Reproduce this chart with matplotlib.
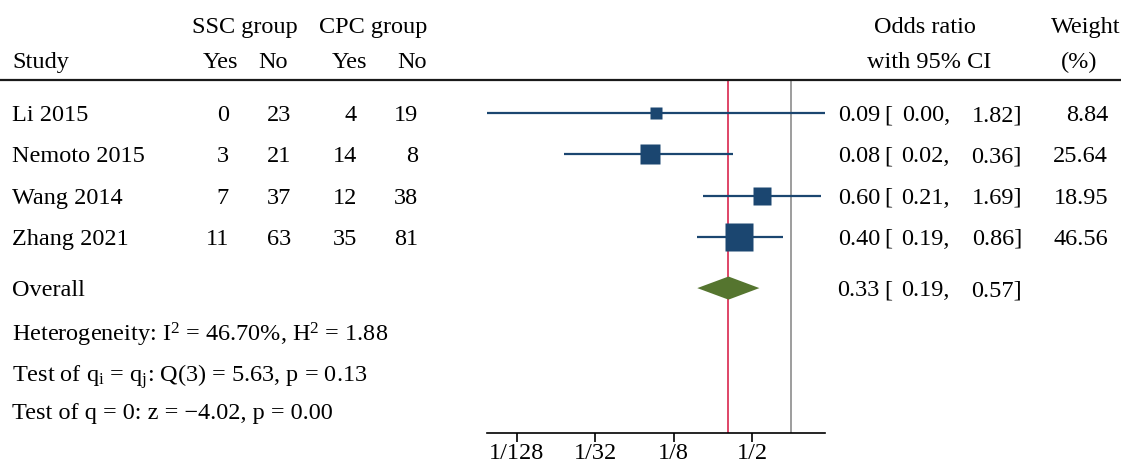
import numpy as np
import matplotlib
matplotlib.use("Agg")
import matplotlib.pyplot as plt
from matplotlib.lines import Line2D
from matplotlib.transforms import blended_transform_factory

plt.rcParams['font.family'] = ['Liberation Serif', 'DejaVu Serif']
plt.rcParams['mathtext.fontset'] = 'custom'
plt.rcParams['mathtext.rm'] = 'Liberation Serif'
plt.rcParams['mathtext.it'] = 'Liberation Serif:italic'

# data
studies = ["Li 2015", "Nemoto 2015", "Wang 2014", "Zhang 2021"]
ssc_yes = [0, 3, 7, 11]
ssc_no = [23, 21, 37, 63]
cpc_yes = [4, 14, 12, 35]
cpc_no = [19, 8, 38, 81]
odds = [0.092, 0.082, 0.60, 0.40]
ci_low = [0.0046, 0.018, 0.21, 0.19]
ci_high = [1.82, 0.36, 1.69, 0.86]
weights = [8.84, 25.64, 18.95, 46.56]
or_text = [("0.09", "0.00", "1.82"), ("0.08", "0.02", "0.36"),
           ("0.60", "0.21", "1.69"), ("0.40", "0.19", "0.86")]
overall_or = 0.33
overall_low = 0.19
overall_high = 0.57
overall_text = ("0.33", "0.19", "0.57")
stats_lines = [
    r"Heterogeneity: I$^2$ = 46.70%, H$^2$ = 1.88",
    r"Test of q$_\mathregular{i}$ = q$_\mathregular{j}$: Q(3) = 5.63, p = 0.13",
    "Test of q = 0: z = \u22124.02, p = 0.00",
]
tick_vals = [1/128, 1/32, 1/8, 1/2]
tick_labels = ["1/128", "1/32", "1/8", "1/2"]

W, H = 1121, 465
FS = 17.5
navy = "#1b4670"
green = "#55752f"
red = "#d9264e"

fig = plt.figure(figsize=(W / 100, H / 100), dpi=100)
ax = fig.add_axes([487 / W, 1 - 433 / H, 338 / W, (433 - 80) / H])

rows = np.arange(1, len(studies) + 1)
overall_row = 5.24

ax.set_xscale('log', base=2)
ax.set_xlim(min(ci_low), max(ci_high))
ax.set_ylim(8.75, 0.2)

ax.axvline(1, color="#8c8c8c", lw=1.2, zorder=1)
ax.axvline(overall_or, color=red, lw=1.2, zorder=1)

for r, o, lo, hi, w in zip(rows, odds, ci_low, ci_high, weights):
    ax.plot([lo, hi], [r, r], color=navy, lw=1.6, solid_capstyle='butt', zorder=2)
    ax.plot([o], [r], marker='s', ms=4.0 * np.sqrt(w) * 0.72, color=navy,
            mec='none', zorder=3)

hh = 0.28
ax.fill([overall_low, overall_or, overall_high, overall_or],
        [overall_row, overall_row - hh, overall_row, overall_row + hh],
        color=green, lw=0, zorder=3)

for s in ["left", "right", "top"]:
    ax.spines[s].set_visible(False)
ax.spines["bottom"].set_linewidth(1.2)
ax.set_yticks([])
ax.set_xticks(tick_vals)
ax.set_xticklabels(tick_labels)
ax.xaxis.set_minor_locator(matplotlib.ticker.NullLocator())
ax.tick_params(axis='x', length=6.5, width=1.2, labelsize=FS, pad=1)

# text columns
tr = blended_transform_factory(fig.transFigure, ax.transData)


def rowtext(xpx, y, s, ha="left"):
    fig.text(xpx / W, y, s, ha=ha, va="center_baseline", fontsize=FS,
             transform=tr)


def headtext(xpx, ypx, s, ha="left"):
    fig.text(xpx / W, 1 - ypx / H, s, ha=ha, va="center_baseline", fontsize=FS)


headtext(245, 25, "SSC group", "center")
headtext(373, 25, "CPC group", "center")
headtext(12, 60, "Study")
headtext(238, 60, "Yes", "right")
headtext(288, 60, "No", "right")
headtext(367, 60, "Yes", "right")
headtext(427, 60, "No", "right")
headtext(925, 25, "Odds ratio", "center")
headtext(929, 60, "with 95% CI", "center")
headtext(1086, 25, "Weight", "center")
headtext(1079, 60, "(%)", "center")

fig.add_artist(Line2D([0, 1], [1 - 80 / H] * 2, transform=fig.transFigure,
                      color="#1a1a1a", lw=1.6))

for r, name, a, b, c, d, t, w in zip(rows, studies, ssc_yes, ssc_no, cpc_yes,
                                     cpc_no, or_text, weights):
    rowtext(12, r, name)
    rowtext(229, r, str(a), "right")
    rowtext(291, r, str(b), "right")
    rowtext(357, r, str(c), "right")
    rowtext(418, r, str(d), "right")
    rowtext(880, r, t[0], "right")
    rowtext(884, r, "[")
    rowtext(950, r, t[1] + ",", "right")
    rowtext(1022, r, t[2] + "]", "right")
    rowtext(1108, r, f"{w:.2f}", "right")

rowtext(12, overall_row, "Overall")
rowtext(880, overall_row, overall_text[0], "right")
rowtext(884, overall_row, "[")
rowtext(950, overall_row, overall_text[1] + ",", "right")
rowtext(1022, overall_row, overall_text[2] + "]", "right")

for y, s in zip([6.28, 7.27, 8.22], stats_lines):
    rowtext(12, y, s)

fig.savefig("out.png", dpi=100)
